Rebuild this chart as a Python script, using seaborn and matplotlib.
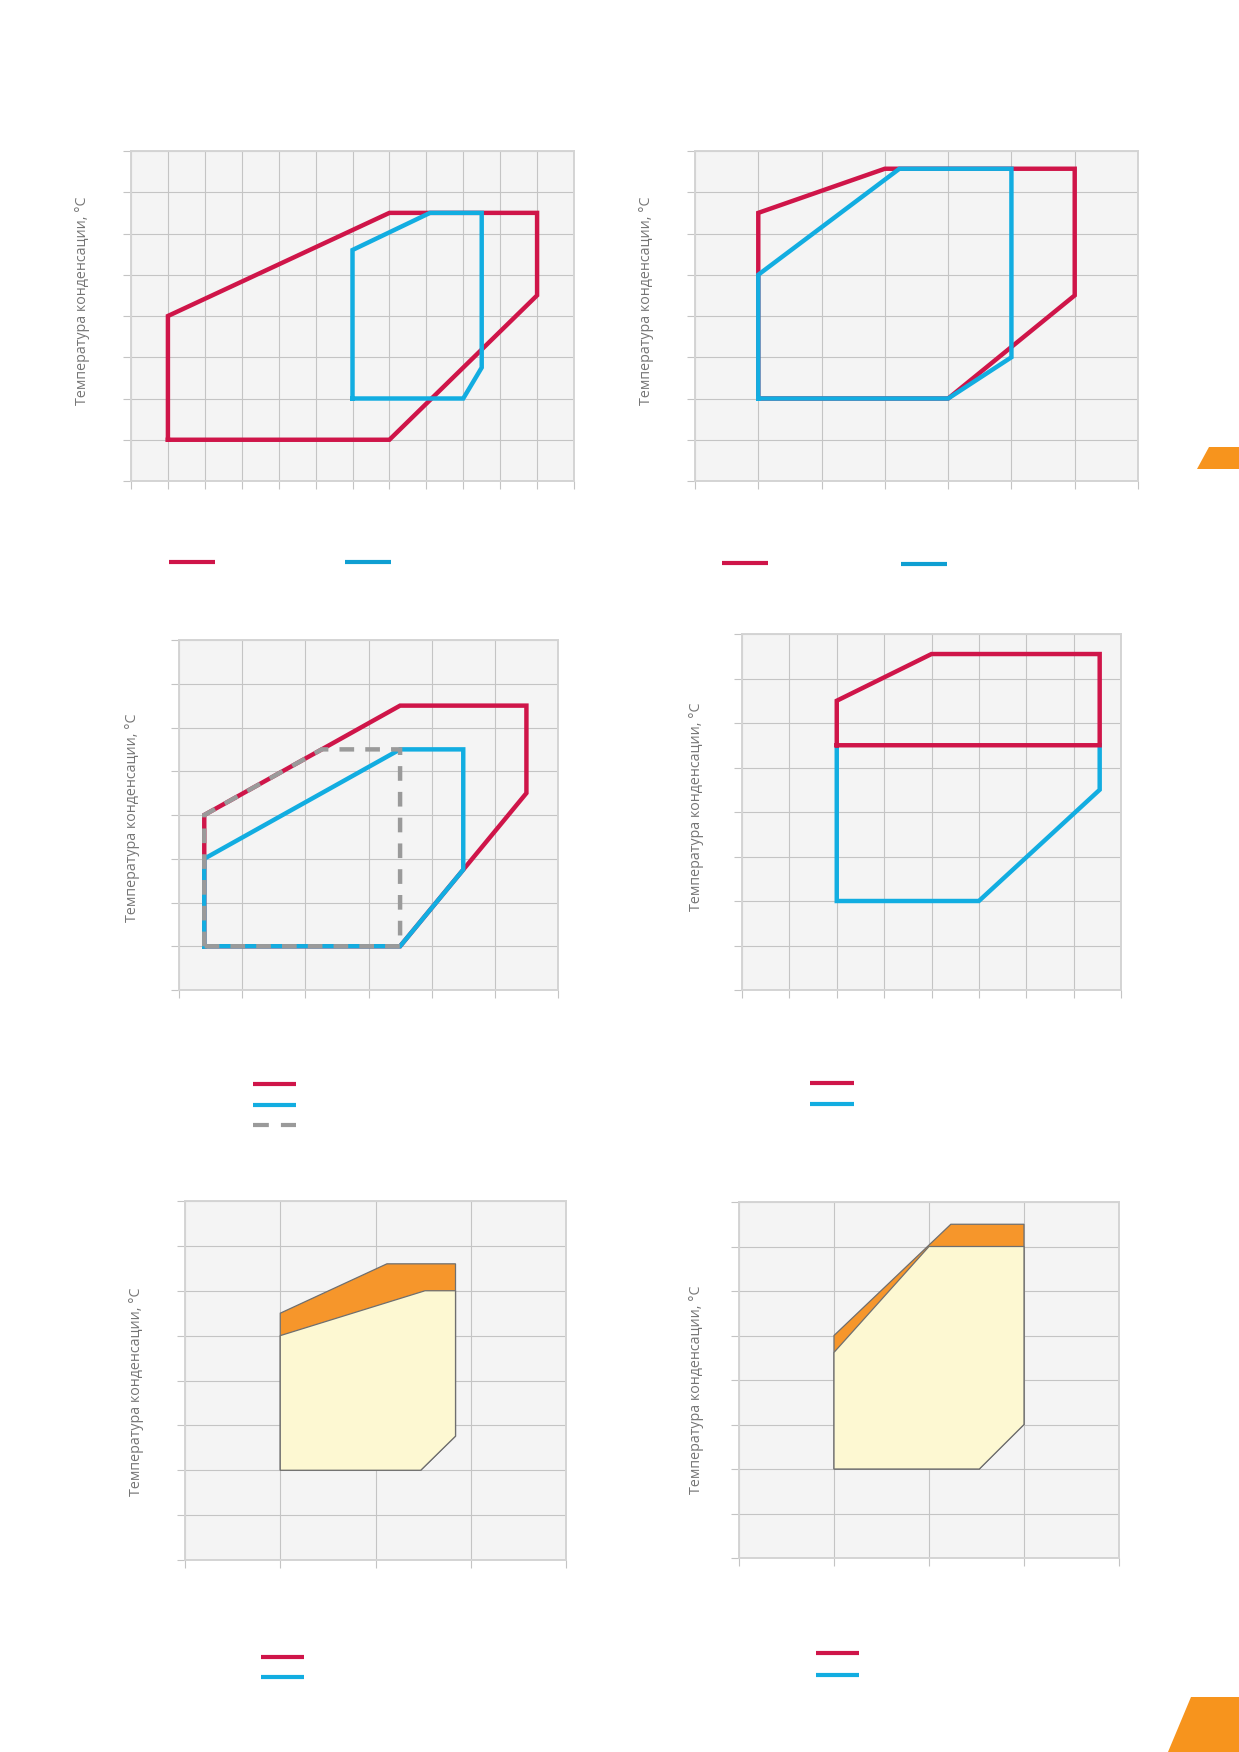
import matplotlib
matplotlib.use("Agg")
import matplotlib.pyplot as plt
import seaborn as sns
import pandas as pd
from matplotlib.lines import Line2D
from matplotlib.patches import Polygon

W, H = 1239, 1752

RED = "#cf1549"
BLUE = "#12ade1"
BLUE_LEG = "#0f9fd2"
GREY = "#9a9a9a"
ORANGE = "#f6962b"
CREAM = "#fdf8d2"
EDGE = "#6f6f6f"
LABEL_COLOR = "#757575"

YLABEL = "Температура конденсации, °C"

# ---------------- data (grid units) ----------------
# Panel 1: x 0..12, y 0..8
p1_red_x = [1, 1, 7, 11, 11, 7, 1]
p1_red_y = [1, 4, 6.5, 6.5, 4.5, 1, 1]
p1_blue_x = [6, 6, 8.1, 9.5, 9.5, 9, 6]
p1_blue_y = [2, 5.6, 6.5, 6.5, 2.75, 2, 2]

# Panel 2: x 0..7, y 0..8
p2_red_x = [1, 1, 3, 6, 6, 4, 1]
p2_red_y = [2, 6.5, 7.57, 7.57, 4.5, 2, 2]
p2_blue_x = [1, 1, 3.23, 5, 5, 4, 1]
p2_blue_y = [2, 5, 7.57, 7.57, 3, 2, 2]

# Panel 3: x 0..6, y 0..8
p3_red_x = [0.4, 0.4, 3.5, 5.5, 5.5, 3.5, 0.4]
p3_red_y = [1, 4, 6.5, 6.5, 4.5, 1, 1]
p3_blue_x = [0.4, 0.4, 3.5, 4.5, 4.5, 3.5, 0.4]
p3_blue_y = [1, 3, 5.5, 5.5, 2.75, 1, 1]
p3_grey_x = [0.4, 0.4, 2.26, 3.5, 3.5, 0.4]
p3_grey_y = [1, 4, 5.5, 5.5, 1, 1]

# Panel 4: x 0..8, y 0..8
p4_red_x = [2, 2, 4, 7.55, 7.55, 2]
p4_red_y = [5.5, 6.5, 7.55, 7.55, 5.5, 5.5]
p4_blue_x = [7.55, 7.55, 5, 2, 2]
p4_blue_y = [5.5, 4.5, 2, 2, 5.5]

# Panel 5: x 0..4, y 0..8
p5_orange_x = [1, 1, 2.12, 2.84, 2.84, 2.475]
p5_orange_y = [2, 5.5, 6.6, 6.6, 2.76, 2]
p5_cream_x = [1, 1, 2.52, 2.84, 2.84, 2.475]
p5_cream_y = [2, 5, 6, 6, 2.76, 2]

# Panel 6: x 0..4, y 0..8
p6_orange_x = [1, 1, 2.23, 3, 3, 2.53]
p6_orange_y = [2, 5, 7.5, 7.5, 3, 2]
p6_cream_x = [1, 1, 2, 3, 3, 2.53]
p6_cream_y = [2, 4.62, 7, 7, 3, 2]

# ---------------- style ----------------
sns.set_theme(style="whitegrid")
plt.rcParams.update({
    "axes.facecolor": "#f4f4f4",
    "figure.facecolor": "white",
    "grid.color": "#c4c4c4",
    "grid.linewidth": 0.8,
    "axes.edgecolor": "#d4d4d4",
    "axes.linewidth": 1.4,
})
plt.rcParams["font.family"] = ["Open Sans", "DejaVu Sans"]

fig = plt.figure(figsize=(W / 100, H / 100), dpi=100)


def make_ax(left, right, top, bottom, nx, ny):
    ax = fig.add_axes([left / W, 1 - bottom / H, (right - left) / W, (bottom - top) / H])
    return ax, nx, ny


def finish(ax, nx, ny):
    ax.set_xlim(0, nx)
    ax.set_ylim(0, ny)
    ax.set_xticks(range(nx + 1))
    ax.set_yticks(range(ny + 1))
    ax.set_xlabel("")
    ax.set_ylabel("")
    ax.tick_params(bottom=True, left=True, length=5.5, width=0.8, color="#c4c4c4",
                   labelbottom=False, labelleft=False)
    ax.grid(True, zorder=0)
    ax.set_axisbelow(True)
    if ax.get_legend() is not None:
        ax.get_legend().remove()


def outline(ax, xs, ys, color, dashed=False, lw=3.2, z=3):
    df = pd.DataFrame({"x": xs, "y": ys})
    if dashed:
        kw = dict(linestyle=(0, (3.3, 2.5)), dash_joinstyle="miter", dash_capstyle="butt")
    else:
        kw = dict(solid_joinstyle="miter", solid_capstyle="projecting")
    sns.lineplot(data=df, x="x", y="y", sort=False, estimator=None, color=color,
                 lw=lw, ax=ax, zorder=z, **kw)


def filled(ax, xs, ys, color, z=3):
    ax.fill(xs, ys, facecolor=color, edgecolor=EDGE, linewidth=0.9, zorder=z)


def ylabel(x, ycen):
    fig.text(x / W, 1 - ycen / H, YLABEL, rotation=90, ha="center", va="center",
             color=LABEL_COLOR, fontsize=10.3)


def leg_line(x0, x1, y, color, dashed=False):
    kw = dict(linestyle=(0, (3.8, 2.9))) if dashed else {}
    fig.add_artist(Line2D([x0 / W, x1 / W], [1 - y / H, 1 - y / H], transform=fig.transFigure,
                          color=color, lw=3.0, solid_capstyle="butt", dash_capstyle="butt", **kw))


# Panel 1
ax, nx, ny = make_ax(131, 574, 151, 481, 12, 8)
outline(ax, p1_red_x, p1_red_y, RED)
outline(ax, p1_blue_x, p1_blue_y, BLUE, z=4)
finish(ax, nx, ny)
ylabel(83, 301)
leg_line(169, 215, 562, RED)
leg_line(345, 391, 562, BLUE_LEG)

# Panel 2
ax, nx, ny = make_ax(695, 1138, 151, 481, 7, 8)
outline(ax, p2_red_x, p2_red_y, RED)
outline(ax, p2_blue_x, p2_blue_y, BLUE, z=4)
finish(ax, nx, ny)
ylabel(647, 301)
leg_line(722, 768, 563, RED)
leg_line(901, 947, 564, BLUE_LEG)

# Panel 3
ax, nx, ny = make_ax(179, 558, 640, 990, 6, 8)
outline(ax, p3_red_x, p3_red_y, RED)
outline(ax, p3_blue_x, p3_blue_y, BLUE, z=4)
outline(ax, p3_grey_x, p3_grey_y, GREY, dashed=True, z=5)
finish(ax, nx, ny)
ylabel(133, 818)
leg_line(253, 296, 1084, RED)
leg_line(253, 296, 1105, BLUE)
leg_line(253, 296, 1125, GREY, dashed=True)

# Panel 4
ax, nx, ny = make_ax(742, 1121, 634, 990, 8, 8)
outline(ax, p4_blue_x, p4_blue_y, BLUE, z=3)
outline(ax, p4_red_x, p4_red_y, RED, z=4)
finish(ax, nx, ny)
ylabel(697, 807)
leg_line(810, 854, 1083, RED)
leg_line(810, 854, 1104, BLUE)

# Panel 5
ax, nx, ny = make_ax(185, 566, 1201, 1560, 4, 8)
filled(ax, p5_orange_x, p5_orange_y, ORANGE, z=3)
filled(ax, p5_cream_x, p5_cream_y, CREAM, z=4)
finish(ax, nx, ny)
ylabel(137, 1392)
leg_line(261, 304, 1657, RED)
leg_line(261, 304, 1677, BLUE)

# Panel 6
ax, nx, ny = make_ax(739, 1119, 1202, 1558, 4, 8)
filled(ax, p6_orange_x, p6_orange_y, ORANGE, z=3)
filled(ax, p6_cream_x, p6_cream_y, CREAM, z=4)
finish(ax, nx, ny)
ylabel(697, 1390)
leg_line(816, 859, 1653, RED)
leg_line(816, 859, 1675, BLUE)

# Decorative orange page tabs
TAB = "#f7941d"
fig.add_artist(Polygon([[1197 / W, 1 - 469 / H], [1209 / W, 1 - 447 / H], [1, 1 - 447 / H], [1, 1 - 469 / H]],
                       closed=True, transform=fig.transFigure, facecolor=TAB, edgecolor="none"))
fig.add_artist(Polygon([[1168 / W, 0], [1191 / W, 1 - 1697 / H], [1, 1 - 1697 / H], [1, 0]],
                       closed=True, transform=fig.transFigure, facecolor=TAB, edgecolor="none"))

fig.savefig("out.png", dpi=100)
